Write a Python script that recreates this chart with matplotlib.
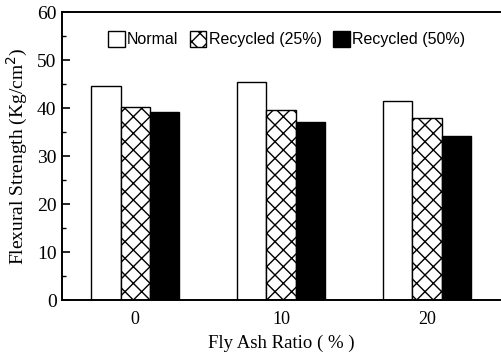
import matplotlib.pyplot as plt
import numpy as np
from matplotlib.ticker import MultipleLocator

# Resistencia a flexion segun el porcentaje de ceniza volante
ratios = [0, 10, 20]
normal = [44.6, 45.4, 41.5]
reciclado_25 = [40.2, 39.6, 37.9]
reciclado_50 = [39.2, 37.1, 34.2]

ancho = 2.0
pos = np.array(ratios, dtype=float)

fig = plt.figure(figsize=(5.01, 3.54), dpi=100)
ax = fig.add_axes([0.124, 0.1525, 0.874, 0.8135])

plt.rcParams['hatch.linewidth'] = 1.0

ax.bar(pos - ancho, normal, width=ancho, color='white', edgecolor='black',
       linewidth=1.0, label='Normal')
ax.bar(pos, reciclado_25, width=ancho, color='white', edgecolor='black',
       linewidth=1.0, hatch='xx', label='Recycled (25%)')
ax.bar(pos + ancho, reciclado_50, width=ancho, color='black', edgecolor='black',
       linewidth=1.0, label='Recycled (50%)')

ax.set_xlim(-5, 25)
ax.set_ylim(0, 60)
ax.set_xticks(ratios)
ax.set_xticklabels([str(r) for r in ratios], fontfamily='Liberation Serif', fontsize=13)
ax.yaxis.set_major_locator(MultipleLocator(10))
ax.yaxis.set_minor_locator(MultipleLocator(5))
for t in ax.get_yticklabels():
    t.set_fontfamily('Liberation Serif')
    t.set_fontsize(14)

ax.tick_params(axis='x', length=0, pad=8)
ax.tick_params(axis='y', which='major', direction='in', length=6, width=1.2, pad=4)
ax.tick_params(axis='y', which='minor', direction='in', length=3, width=1.0)

for lado in ['left', 'bottom', 'top']:
    ax.spines[lado].set_linewidth(1.4)
ax.spines['right'].set_visible(False)

ax.set_xlabel('Fly Ash Ratio ( % )', fontfamily='Liberation Serif', fontsize=13.5, labelpad=5)
ax.set_ylabel('Flexural Strength (Kg/cm$^2$)', fontfamily='Liberation Serif',
              fontsize=14, labelpad=5)

ax.legend(loc='upper left', bbox_to_anchor=(0.09, 0.955), ncol=3, frameon=False,
          prop={'family': 'Liberation Sans', 'size': 11.5},
          handlelength=1.05, handleheight=1.1, handletextpad=0.15,
          columnspacing=0.7, borderaxespad=0)

fig.savefig('out.png', dpi=100)
